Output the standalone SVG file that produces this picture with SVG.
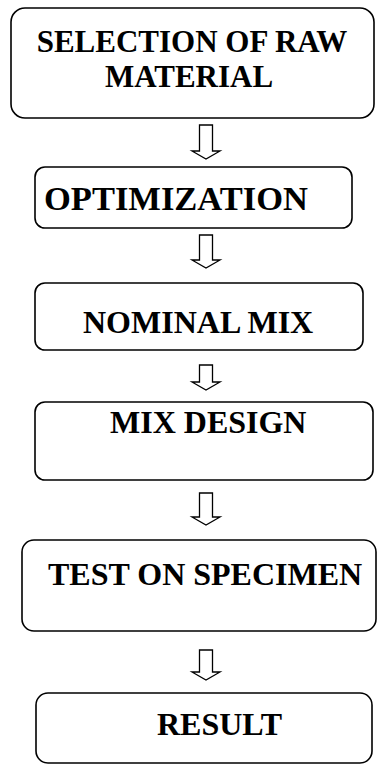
<svg xmlns="http://www.w3.org/2000/svg" width="377" height="765" viewBox="0 0 377 765">
<style>
.box{fill:#fff;stroke:#000;stroke-width:1.6}
.t{font-family:"Liberation Serif","Times New Roman",serif;font-weight:bold;font-size:32px;fill:#000}
.arr{fill:#fff;stroke:#000;stroke-width:1.3;stroke-linejoin:miter}
</style>
<rect width="377" height="765" fill="#fff"/>
<g id="connectors">
<path class="arr" d="M199.5,125 H212.5 V151 H220 L206,159 L192,151 H199.5 Z"/>
<path class="arr" d="M199.5,235 H212.5 V260 H220 L206,268 L192,260 H199.5 Z"/>
<path class="arr" d="M199.5,365 H212.5 V382 H220 L206,390 L192,382 H199.5 Z"/>
<path class="arr" d="M199.5,493 H212.5 V517 H220 L206,525 L192,517 H199.5 Z"/>
<path class="arr" d="M199.5,650 H212.5 V672 H220 L206,680 L192,672 H199.5 Z"/>
</g>
<g id="n1">
<rect class="box" x="11" y="8" width="363" height="110" rx="14"/>
<text class="t" text-anchor="middle" style="font-size:31px"><tspan x="192" y="52">SELECTION OF RAW</tspan><tspan x="189" y="87">MATERIAL</tspan></text>
</g>
<g id="n2">
<rect class="box" x="35" y="167" width="317" height="61" rx="10"/>
<text class="t" x="44" y="210" style="font-size:34.5px">OPTIMIZATION</text>
</g>
<g id="n3">
<rect class="box" x="35" y="283" width="328" height="67" rx="10"/>
<text class="t" x="83" y="333">NOMINAL MIX</text>
</g>
<g id="n4">
<rect class="box" x="35" y="402" width="338" height="78" rx="10"/>
<text class="t" x="110" y="433">MIX DESIGN</text>
</g>
<g id="n5">
<rect class="box" x="22" y="540" width="354" height="91" rx="12"/>
<text class="t" x="48" y="585">TEST ON SPECIMEN</text>
</g>
<g id="n6">
<rect class="box" x="36" y="693" width="336" height="70" rx="12"/>
<text class="t" x="157" y="735">RESULT</text>
</g>
</svg>
